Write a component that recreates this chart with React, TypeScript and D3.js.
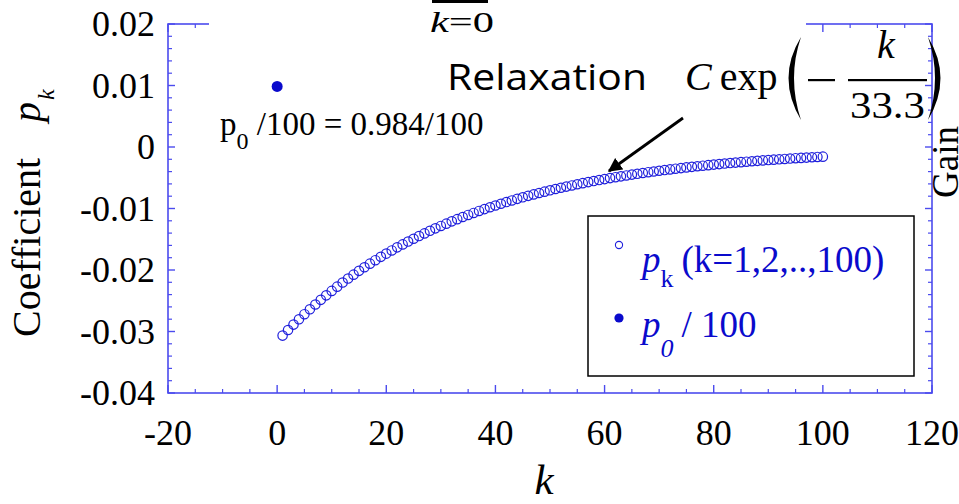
import React from "react";
import * as d3 from "d3";

// k = 1..100 and the read-off coefficients p_k
const kValues: number[] = d3.range(1, 101);
const pkValues: number[] = [
  -0.03067, -0.02976, -0.02888, -0.02802, -0.02719, -0.02639, -0.02561, -0.02485, -0.02412, -0.0234,
  -0.02271, -0.02204, -0.02139, -0.02076, -0.02014, -0.01955, -0.01897, -0.01841, -0.01786, -0.01733,
  -0.01682, -0.01632, -0.01584, -0.01537, -0.01492, -0.01448, -0.01405, -0.01363, -0.01323, -0.01284,
  -0.01246, -0.01209, -0.01173, -0.01138, -0.01105, -0.01072, -0.0104, -0.0101, -0.0098, -0.00951,
  -0.00923, -0.00895, -0.00869, -0.00843, -0.00818, -0.00794, -0.00771, -0.00748, -0.00726, -0.00704,
  -0.00683, -0.00663, -0.00644, -0.00625, -0.00606, -0.00588, -0.00571, -0.00554, -0.00537, -0.00522,
  -0.00506, -0.00491, -0.00477, -0.00463, -0.00449, -0.00436, -0.00423, -0.0041, -0.00398, -0.00386,
  -0.00375, -0.00364, -0.00353, -0.00343, -0.00332, -0.00323, -0.00313, -0.00304, -0.00295, -0.00286,
  -0.00278, -0.00269, -0.00261, -0.00254, -0.00246, -0.00239, -0.00232, -0.00225, -0.00218, -0.00212,
  -0.00206, -0.002, -0.00194, -0.00188, -0.00182, -0.00177, -0.00172, -0.00167, -0.00162, -0.00157,
];
// the filled point p0/100 at k = 0
const p0K = [0];
const p0Values = [0.00984];

const xTickValues = [-20, 0, 20, 40, 60, 80, 100, 120];
const xTickLabels = ["-20", "0", "20", "40", "60", "80", "100", "120"];
const yTickValues = [0.02, 0.01, 0, -0.01, -0.02, -0.03, -0.04];
const yTickLabels = ["0.02", "0.01", "0", "-0.01", "-0.02", "-0.03", "-0.04"];

const W = 959;
const H = 504;
const left = 168, right = 932, top = 24, bottom = 393;
const axisColor = "#4b4bee";
const markColor = "#1f1fdc";
const textBlue = "#0a0acc";
const serif = "Liberation Serif, Times New Roman, Times, serif";

export default function App() {
  const x = d3.scaleLinear().domain([-20, 120]).range([left, right]);
  const y = d3.scaleLinear().domain([-0.04, 0.02]).range([bottom, top]);

  const xMinor = d3.range(-20, 120.01, 5).filter((v) => v % 20 !== 0);
  const yMinor = d3.range(-0.04, 0.0201, 0.002).filter(
    (v) => Math.abs(Math.round(v * 100) - v * 100) > 1e-6
  );

  return (
    <svg
      width={W}
      height={H}
      style={{ position: "absolute", left: 0, top: 0, background: "#fff", fontFamily: serif }}
    >
      <rect width={W} height={H} fill="#fff" />

      {/* frame */}
      <rect
        x={left}
        y={top}
        width={right - left}
        height={bottom - top}
        fill="none"
        stroke={axisColor}
        strokeWidth={1.6}
      />

      {/* x ticks: bottom and top, pointing in */}
      {xTickValues.map((v) => (
        <g key={"xM" + v}>
          <line x1={x(v)} x2={x(v)} y1={bottom} y2={bottom - 8} stroke={axisColor} strokeWidth={1.4} />
          <line x1={x(v)} x2={x(v)} y1={top} y2={top + 8} stroke={axisColor} strokeWidth={1.4} />
        </g>
      ))}
      {xMinor.map((v) => (
        <g key={"xm" + v}>
          <line x1={x(v)} x2={x(v)} y1={bottom} y2={bottom - 4} stroke={axisColor} strokeWidth={1.2} />
          <line x1={x(v)} x2={x(v)} y1={top} y2={top + 4} stroke={axisColor} strokeWidth={1.2} />
        </g>
      ))}
      {/* y ticks: left and right */}
      {yTickValues.map((v) => (
        <g key={"yM" + v}>
          <line x1={left} x2={left + 7} y1={y(v)} y2={y(v)} stroke={axisColor} strokeWidth={1.4} />
          <line x1={right} x2={right - 7} y1={y(v)} y2={y(v)} stroke={axisColor} strokeWidth={1.4} />
        </g>
      ))}
      {yMinor.map((v, i) => (
        <g key={"ym" + i}>
          <line x1={left} x2={left + 4} y1={y(v)} y2={y(v)} stroke={axisColor} strokeWidth={1.2} />
          <line x1={right} x2={right - 4} y1={y(v)} y2={y(v)} stroke={axisColor} strokeWidth={1.2} />
        </g>
      ))}

      {/* white box over the top axis (text box of the overlay) */}
      <rect x={209} y={14} width={597} height={22} fill="#fff" />

      {/* tick labels */}
      {xTickValues.map((v, i) => (
        <text
          key={"xl" + v}
          x={x(v)}
          y={445}
          textAnchor="middle"
          style={{ fontFamily: serif, fontSize: 36 }}
          fill="#000"
        >
          {xTickLabels[i]}
        </text>
      ))}
      {yTickValues.map((v, i) => (
        <text
          key={"yl" + v}
          x={155}
          y={y(v) + 12}
          textAnchor="end"
          style={{ fontFamily: serif, fontSize: 36 }}
          fill="#000"
        >
          {yTickLabels[i]}
        </text>
      ))}

      {/* axis titles */}
      <text x={544} y={494} textAnchor="middle" style={{ fontFamily: serif, fontSize: 43, fontStyle: "italic" }}>
        k
      </text>
      <text transform="translate(40,337) rotate(-90)" style={{ fontFamily: serif, fontSize: 40 }}>
        Coefficient
      </text>
      <text transform="translate(40,122) rotate(-90)" style={{ fontFamily: serif, fontSize: 40, fontStyle: "italic" }}>
        p
        <tspan style={{ fontSize: 24 }} dy={14} dx={2}>k</tspan>
      </text>
      <text transform="translate(958,198) rotate(-90)" style={{ fontFamily: serif, fontSize: 37 }}>
        Gain
      </text>

      {/* data */}
      {kValues.map((k, i) => (
        <circle
          key={"pk" + k}
          cx={x(k)}
          cy={y(pkValues[i])}
          r={4.7}
          fill="none"
          stroke={markColor}
          strokeWidth={1.2}
        />
      ))}
      {p0K.map((k, i) => (
        <circle key={"p0" + k} cx={x(k)} cy={y(p0Values[i])} r={5.5} fill={textBlue} />
      ))}

      {/* annotation for p0 */}
      <text x={220} y={135} style={{ fontFamily: serif, fontSize: 33 }} fill="#000">
        p
        <tspan style={{ fontSize: 24 }} dy={14}>0</tspan>
        <tspan dy={-14}> /100 = 0.984/100</tspan>
      </text>

      {/* k=0 with overline (fragment of a sum sign above) */}
      <rect x={432} y={0} width={56} height={3} fill="#000" />
      <text x={430} y={32} style={{ fontFamily: serif, fontSize: 30 }} textLength={64} lengthAdjust="spacingAndGlyphs">
        <tspan style={{ fontStyle: "italic" }}>k</tspan>=0
      </text>

      {/* Relaxation formula */}
      <text
        x={447}
        y={90}
        style={{ fontFamily: "Open Sans, Liberation Sans, sans-serif", fontSize: 37 }}
        textLength={200}
        lengthAdjust="spacingAndGlyphs"
      >
        Relaxation
      </text>
      <text x={685} y={90} style={{ fontFamily: serif, fontSize: 40 }}>
        <tspan style={{ fontStyle: "italic" }}>C</tspan>
        <tspan dx={8}>exp</tspan>
      </text>
      {/* tall parentheses */}
      <path d="M801,37 Q776,78 801,120 Q787,78 801,37 Z" fill="#000" />
      <path d="M928,37 Q953,78 928,120 Q942,78 928,37 Z" fill="#000" />
      <rect x={808} y={79} width={27} height={2.2} fill="#000" />
      <rect x={848} y={79} width={79} height={2.2} fill="#000" />
      <text x={886} y={58} textAnchor="middle" style={{ fontFamily: serif, fontStyle: "italic", fontSize: 40 }}>
        k
      </text>
      <text x={850} y={118} style={{ fontFamily: serif, fontSize: 38 }} textLength={75} lengthAdjust="spacingAndGlyphs">
        33.3
      </text>

      {/* arrow */}
      <defs>
        <marker id="arrowHead" viewBox="0 0 10 10" refX={9} refY={5} markerWidth={5} markerHeight={5} orient="auto">
          <path d="M0,0 L10,5 L0,10 z" fill="#000" />
        </marker>
      </defs>
      <line x1={683} y1={118} x2={609} y2={171} stroke="#000" strokeWidth={2.8} markerEnd="url(#arrowHead)" />

      {/* legend */}
      <rect x={588} y={216} width={326} height={160} fill="#fff" stroke="#000" strokeWidth={1.5} />
      <circle cx={619} cy={245} r={3.6} fill="none" stroke={markColor} strokeWidth={1.1} />
      <text x={642} y={272} style={{ fontFamily: serif, fontSize: 37 }} fill={textBlue}>
        <tspan style={{ fontStyle: "italic" }}>p</tspan>
        <tspan style={{ fontSize: 26 }} dy={15}>k</tspan>
        <tspan dy={-15} dx={8}>(k=1,2,..,100)</tspan>
      </text>
      <circle cx={619} cy={318} r={4.6} fill={textBlue} />
      <text x={642} y={337} style={{ fontFamily: serif, fontSize: 37 }} fill={textBlue}>
        <tspan style={{ fontStyle: "italic" }}>p</tspan>
        <tspan style={{ fontSize: 26, fontStyle: "italic" }} dy={20}>0</tspan>
        <tspan dy={-20} dx={8}>/ 100</tspan>
      </text>
    </svg>
  );
}
